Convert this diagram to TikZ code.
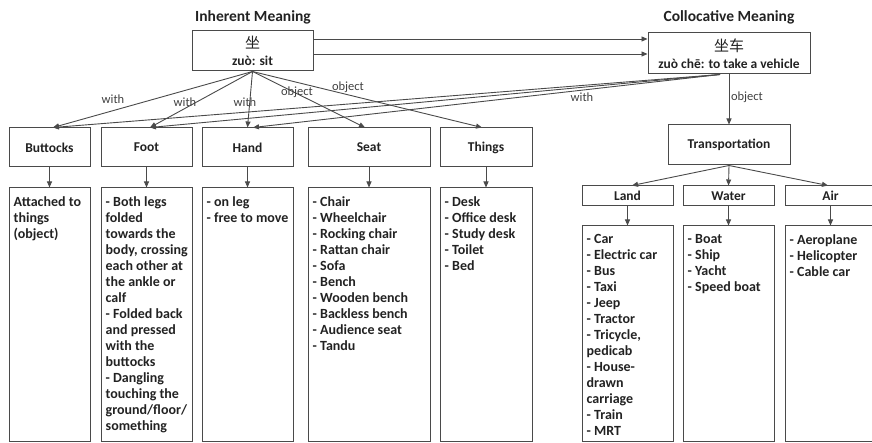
\documentclass[tikz,border=0pt]{standalone}
\usepackage{fontspec}
\setmainfont{Carlito}
\newfontfamily\cjk{Noto Sans CJK SC}
\usetikzlibrary{arrows.meta}
\definecolor{linegray}{HTML}{4A4A4A}
\definecolor{inkdark}{HTML}{222222}
\definecolor{lblgray}{HTML}{404040}
\tikzset{
  box/.style={draw=linegray, line width=1pt, rectangle, inner sep=0pt,
    font=\fontsize{13.5}{16}\selectfont\bfseries, text=inkdark},
  listtext/.style={anchor=north west, inner sep=0pt, align=left,
    font=\fontsize{14}{16}\selectfont\bfseries, text=inkdark},
  heading/.style={font=\fontsize{15.5}{18}\selectfont\bfseries, text=inkdark},
  lbl/.style={font=\fontsize{12.5}{14}\selectfont, text=lblgray, inner sep=0pt},
  arr/.style={draw=linegray, line width=0.9pt, -{Triangle[length=6pt,width=5pt]}}
}
\newcommand\hanzi[1]{{\cjk\mdseries\fontsize{15}{17}\selectfont #1}}
\begin{document}
\begin{tikzpicture}[x=1pt,y=-1pt]
\useasboundingbox (0,0) rectangle (872,443);
\clip (0,0) rectangle (872,443);

% headings
\node[heading] (hl) at (253,17) {Inherent Meaning};
\node[heading] (hr) at (729,17) {Collocative Meaning};

% the two meaning boxes
\node[box, minimum width=121pt, minimum height=40pt, align=center] (zuo) at (252.5,51)
  {\hanzi{坐}\\[1pt]zuò: sit};
\node[box, minimum width=162pt, minimum height=41pt, align=center] (zc) at (729,53.5)
  {\hanzi{坐车}\\[1pt]zuò chē: to take a vehicle};

% categories of the inherent meaning
\node[box, minimum width=81pt, minimum height=39pt] (butt) at (49.5,147.5) {Buttocks};
\node[box, minimum width=91pt, minimum height=39pt] (foot) at (146.5,147.5) {Foot};
\node[box, minimum width=91pt, minimum height=39pt] (hand) at (247.5,147.5) {Hand};
\node[box, minimum width=122pt, minimum height=39pt] (seat) at (369,147.5) {Seat};
\node[box, minimum width=92pt, minimum height=39pt] (things) at (486,147.5) {Things};

% detail columns
\node[box, minimum width=81pt, minimum height=253pt] (buttd) at (49.5,314.5) {};
\node[box, minimum width=91pt, minimum height=253pt] (footd) at (146.5,314.5) {};
\node[box, minimum width=91pt, minimum height=253pt] (handd) at (247.5,314.5) {};
\node[box, minimum width=122pt, minimum height=253pt] (seatd) at (369,314.5) {};
\node[box, minimum width=92pt, minimum height=253pt] (thingsd) at (486,314.5) {};

\node[listtext] (buttt) at ([shift={(5pt,-9pt)}]buttd.north west)
  {Attached to\\things\\(object)};
\node[listtext] (foott) at ([shift={(5pt,-9pt)}]footd.north west)
  {- Both legs\\folded\\towards the\\body, crossing\\each other at\\the ankle or\\calf\\- Folded back\\and pressed\\with the\\buttocks\\- Dangling\\touching the\\ground/floor/\\something};
\node[listtext] (handt) at ([shift={(5pt,-9pt)}]handd.north west)
  {- on leg\\- free to move};
\node[listtext] (seatt) at ([shift={(5pt,-9pt)}]seatd.north west)
  {- Chair\\- Wheelchair\\- Rocking chair\\- Rattan chair\\- Sofa\\- Bench\\- Wooden bench\\- Backless bench\\- Audience seat\\- Tandu};
\node[listtext] (thingst) at ([shift={(5pt,-9pt)}]thingsd.north west)
  {- Desk\\- Office desk\\- Study desk\\- Toilet\\- Bed};

% transportation branch
\node[box, minimum width=122pt, minimum height=40pt] (trans) at (729,145) {Transportation};
\node[box, minimum width=91pt, minimum height=20pt] (land) at (627.5,196) {Land};
\node[box, minimum width=91pt, minimum height=20pt] (water) at (728.5,196) {Water};
\node[box, minimum width=91pt, minimum height=20pt] (air) at (830.5,196) {Air};
\node[box, minimum width=91pt, minimum height=215pt] (landd) at (627.5,333.5) {};
\node[box, minimum width=91pt, minimum height=215pt] (waterd) at (728.5,333.5) {};
\node[box, minimum width=91pt, minimum height=215pt] (aird) at (830.5,333.5) {};

\node[listtext] (landt) at ([shift={(5pt,-9pt)}]landd.north west)
  {- Car\\- Electric car\\- Bus\\- Taxi\\- Jeep\\- Tractor\\- Tricycle,\\pedicab\\- House-\\drawn\\carriage\\- Train\\- MRT};
\node[listtext] (watert) at ([shift={(5pt,-9pt)}]waterd.north west)
  {- Boat\\- Ship\\- Yacht\\- Speed boat};
\node[listtext] (airt) at ([shift={(5pt,-9pt)}]aird.north west)
  {- Aeroplane\\- Helicopter\\- Cable car};

% links between the two meanings
\draw[arr] ([yshift=-3pt]zuo.east) -- ([yshift=-3pt]zuo.east -| zc.west);
\draw[arr] ([yshift=12pt]zuo.east) -- ([yshift=12pt]zuo.east -| zc.west);

% links from the inherent meaning
\draw[arr] (zuo.south) -- ([xshift=3.5pt]butt.north);
\draw[arr] (zuo.south) -- ([xshift=3.5pt]foot.north);
\draw[arr] (zuo.south) -- (hand.north);
\draw[arr] (zuo.south) -- ([xshift=-4pt]seat.north);
\draw[arr] (zuo.south) -- ([xshift=-4pt]things.north);

% links from the collocative meaning
\coordinate (zcs) at ([xshift=-9pt]zc.south);
\draw[arr] (zcs) -- ([xshift=3.5pt]butt.north);
\draw[arr] (zcs) -- ([xshift=3.5pt]foot.north);
\draw[arr] (zcs) -- ([xshift=5.5pt]hand.north);
\draw[arr] (zc.south) -- (trans.north);

% edge labels
\node[lbl] (w1) at (113,99) {with};
\node[lbl] (w2) at (185,102) {with};
\node[lbl] (w3) at (245,102) {with};
\node[lbl] (o1) at (297,92) {object};
\node[lbl] (o2) at (348,87) {object};
\node[lbl] (w4) at (582,97) {with};
\node[lbl] (o3) at (747,97) {object};

% category to detail
\foreach \a/\b in {butt/buttd, foot/footd, hand/handd, seat/seatd, things/thingsd,
                   land/landd, water/waterd, air/aird}
  \draw[arr] (\a.south) -- (\b.north);

% transportation modes
\draw[arr] (trans.south) -- ([xshift=4.5pt]land.north);
\draw[arr] (trans.south) -- (water.north);
\draw[arr] (trans.south) -- ([xshift=-2.5pt]air.north);
\end{tikzpicture}
\end{document}
